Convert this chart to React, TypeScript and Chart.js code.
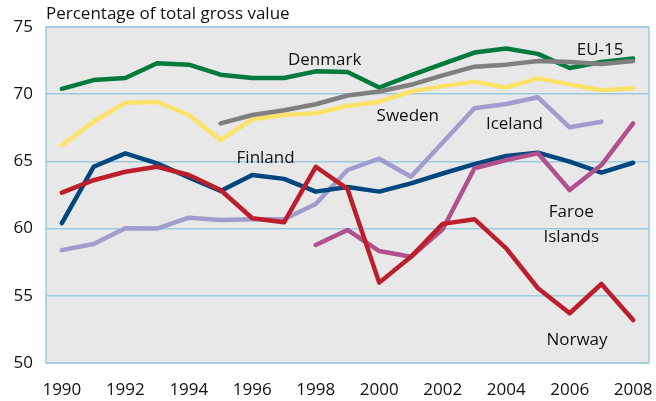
import React, { useEffect, useRef } from "react";
import { Chart, registerables } from "chart.js";

Chart.register(...registerables);

const years = [1990, 1991, 1992, 1993, 1994, 1995, 1996, 1997, 1998, 1999, 2000, 2001, 2002, 2003, 2004, 2005, 2006, 2007, 2008];
const tickYears = [1990, 1992, 1994, 1996, 1998, 2000, 2002, 2004, 2006, 2008];
const yTicks = [50, 55, 60, 65, 70, 75];

const denmark = [70.4, 71.05, 71.2, 72.3, 72.2, 71.45, 71.2, 71.2, 71.7, 71.65, 70.5, 71.4, 72.25, 73.1, 73.4, 73.0, 71.95, 72.4, 72.65];
const eu15 = [null, null, null, null, null, 67.83, 68.45, 68.8, 69.25, 69.9, 70.2, 70.7, 71.4, 72.05, 72.2, 72.47, 72.4, 72.25, 72.47];
const sweden = [66.2, 67.95, 69.37, 69.42, 68.45, 66.6, 68.13, 68.45, 68.58, 69.12, 69.44, 70.19, 70.6, 70.93, 70.5, 71.18, 70.73, 70.3, 70.44];
const iceland = [58.4, 58.85, 60.02, 60.0, 60.81, 60.64, 60.7, 60.7, 61.83, 64.36, 65.2, 63.86, 66.4, 68.95, 69.27, 69.77, 67.54, 67.95, null];
const finland = [60.4, 64.6, 65.6, 64.86, 63.8, 62.8, 63.99, 63.7, 62.75, 63.1, 62.75, 63.37, 64.1, 64.8, 65.4, 65.65, 64.98, 64.16, 64.9];
const norway = [62.67, 63.6, 64.23, 64.6, 63.99, 62.87, 60.77, 60.47, 64.6, 62.95, 55.98, 57.9, 60.35, 60.7, 58.53, 55.56, 53.7, 55.88, 53.2];
const faroe = [null, null, null, null, null, null, null, null, 58.78, 59.9, 58.33, 57.9, 59.95, 64.49, 65.1, 65.6, 62.87, 64.73, 67.83];

const labels = [
  { text: "Denmark", x: 1998.28, y: 72.55 },
  { text: "EU-15", x: 2006.96, y: 73.3 },
  { text: "Sweden", x: 2000.9, y: 68.4 },
  { text: "Iceland", x: 2004.26, y: 67.8 },
  { text: "Finland", x: 1996.42, y: 65.25 },
  { text: "Faroe", x: 2006.05, y: 61.25 },
  { text: "Islands", x: 2006.05, y: 59.4 },
  { text: "Norway", x: 2006.23, y: 51.7 },
];

const FONT = "'Open Sans', 'Noto Sans', sans-serif";

function toPts(vals: (number | null)[]) {
  return years.map((yr, i) => ({ x: yr, y: vals[i] as any }));
}

export default function App() {
  const ref = useRef<HTMLCanvasElement | null>(null);
  useEffect(() => {
    if (!ref.current) return;
    const bgPlugin = {
      id: "bg",
      beforeDraw(chart: any) {
        const { ctx, chartArea } = chart;
        ctx.save();
        ctx.fillStyle = "#e8e8e8";
        ctx.fillRect(chartArea.left, chartArea.top, chartArea.right - chartArea.left, chartArea.bottom - chartArea.top);
        ctx.restore();
      },
      afterDraw(chart: any) {
        const { ctx, chartArea, scales } = chart;
        ctx.save();
        ctx.strokeStyle = "#9ccbe0";
        ctx.lineWidth = 1.5;
        ctx.strokeRect(chartArea.left, chartArea.top, chartArea.right - chartArea.left, chartArea.bottom - chartArea.top);
        ctx.fillStyle = "#111";
        ctx.font = `17px ${FONT}`;
        ctx.textAlign = "left";
        ctx.textBaseline = "middle";
        ctx.fillText("Percentage of total gross value", chartArea.left, 14);
        ctx.textAlign = "center";
        for (const l of labels) {
          ctx.fillText(l.text, scales.x.getPixelForValue(l.x), scales.y.getPixelForValue(l.y));
        }
        ctx.restore();
      },
    };
    const mk = (label: string, data: (number | null)[], color: string) => ({
      label,
      data: toPts(data),
      borderColor: color,
      backgroundColor: color,
      borderWidth: 4.5,
      pointRadius: 0,
      tension: 0,
      borderJoinStyle: "round" as const,
      borderCapStyle: "round" as const,
      spanGaps: false,
    });
    const chart = new Chart(ref.current, {
      type: "line",
      data: {
        datasets: [
          mk("Norway", norway, "#bd1e2c"),
          mk("Faroe Islands", faroe, "#b0518d"),
          mk("Finland", finland, "#00467f"),
          mk("EU-15", eu15, "#7f7f7f"),
          mk("Denmark", denmark, "#007a3d"),
          mk("Sweden", sweden, "#fde26a"),
          mk("Iceland", iceland, "#a09dce"),
        ],
      },
      plugins: [bgPlugin],
      options: {
        responsive: false,
        animation: false,
        layout: { padding: { left: 0, right: 7, top: 27, bottom: 0 } },
        plugins: { legend: { display: false }, tooltip: { enabled: false }, title: { display: false } },
        scales: {
          x: {
            type: "linear",
            min: 1989.5,
            max: 2008.5,
            afterBuildTicks(scale: any) {
              scale.ticks = tickYears.map((v) => ({ value: v }));
            },
            afterFit(scale: any) {
              scale.height = 38;
              scale.paddingLeft = 0;
              scale.paddingRight = 0;
            },
            grid: { display: false, drawTicks: false },
            border: { display: false },
            ticks: {
              color: "#111",
              font: { family: FONT, size: 17 },
              padding: 17,
              maxRotation: 0,
              autoSkip: false,
              callback: (v: any) => String(v),
            },
          },
          y: {
            min: 50,
            max: 75,
            afterBuildTicks(scale: any) {
              scale.ticks = yTicks.map((v) => ({ value: v }));
            },
            afterFit(scale: any) {
              scale.width = 46;
              scale.paddingTop = 0;
              scale.paddingBottom = 0;
            },
            grid: { color: "#9ccbe0", lineWidth: 1.5, drawTicks: false },
            border: { display: false },
            ticks: {
              color: "#111",
              font: { family: FONT, size: 17 },
              padding: 13,
            },
          },
        },
      },
    });
    return () => chart.destroy();
  }, []);
  return (
    <div style={{ position: "fixed", left: 0, top: 0, width: 656, height: 401, background: "#fff" }}>
      <canvas ref={ref} width={656} height={401} style={{ width: 656, height: 401 }} />
    </div>
  );
}
